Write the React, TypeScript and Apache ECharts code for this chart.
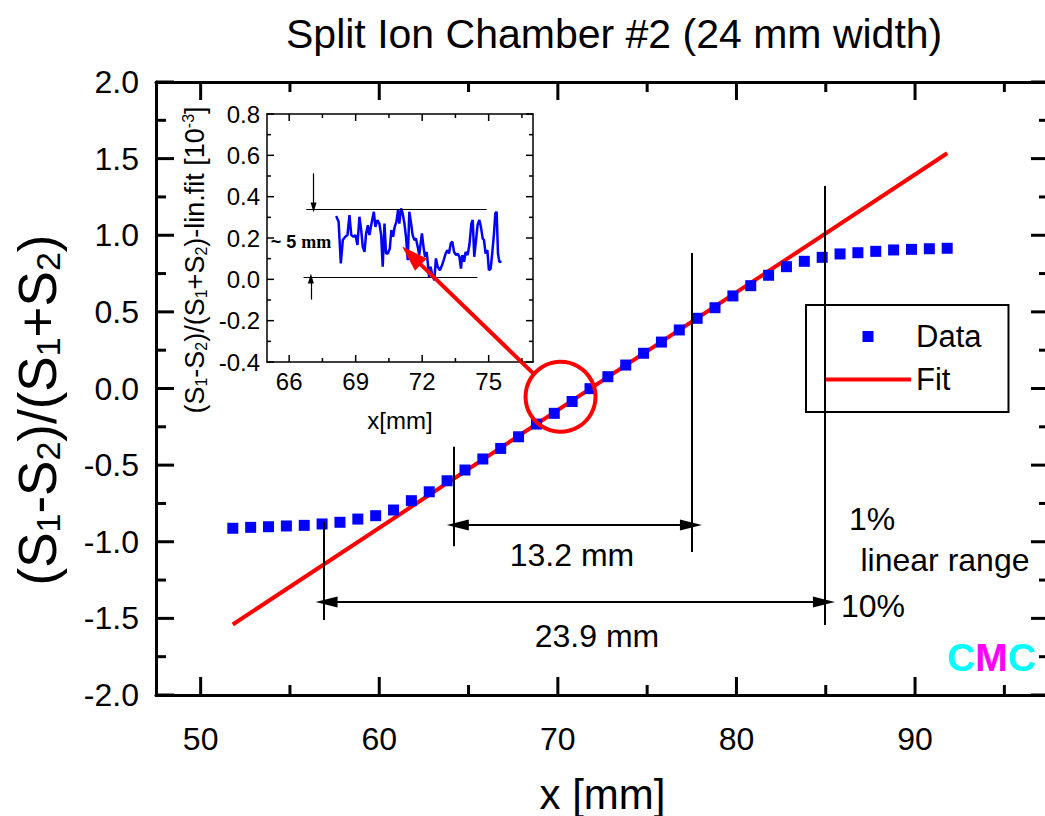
import React, { useEffect, useRef } from "react";
import * as echarts from "echarts";

const FONT = '"Liberation Sans", Arial, Helvetica, sans-serif';

// Main data (x in mm, normalized difference)
const dataX = [51.8, 52.8, 53.8, 54.8, 55.8, 56.8, 57.8, 58.8, 59.8, 60.8, 61.8, 62.8, 63.8, 64.8, 65.8, 66.8, 67.8, 68.8, 69.8, 70.8, 71.8, 72.8, 73.8, 74.8, 75.8, 76.8, 77.8, 78.8, 79.8, 80.8, 81.8, 82.8, 83.8, 84.8, 85.8, 86.8, 87.8, 88.8, 89.8, 90.8, 91.8];
const dataY = [-0.912, -0.906, -0.902, -0.897, -0.893, -0.884, -0.873, -0.852, -0.83, -0.793, -0.732, -0.674, -0.602, -0.532, -0.46, -0.391, -0.315, -0.232, -0.162, -0.085, -0.001, 0.077, 0.153, 0.23, 0.303, 0.382, 0.458, 0.527, 0.604, 0.671, 0.739, 0.795, 0.83, 0.856, 0.878, 0.886, 0.895, 0.904, 0.908, 0.912, 0.915];

// Linear fit end points
const fitX = [51.8, 91.8];
const fitY = [-1.54, 1.535];

// Inset: residual (S1-S2)/(S1+S2) - lin.fit [1e-3]
const insetX = [68.12, 68.23, 68.33, 68.42, 68.53, 68.63, 68.72, 68.8, 68.9, 68.99, 69.08, 69.17, 69.25, 69.32, 69.4, 69.47, 69.55, 69.62, 69.73, 69.82, 69.89, 69.98, 70.07, 70.15, 70.22, 70.3, 70.37, 70.45, 70.54, 70.61, 70.69, 70.76, 70.84, 70.91, 70.97, 71.05, 71.12, 71.2, 71.27, 71.35, 71.42, 71.5, 71.57, 71.65, 71.72, 71.8, 71.87, 71.93, 71.99, 72.07, 72.13, 72.2, 72.25, 72.31, 72.38, 72.46, 72.55, 72.62, 72.7, 72.8, 72.9, 72.97, 73.06, 73.14, 73.21, 73.29, 73.36, 73.44, 73.53, 73.6, 73.68, 73.75, 73.81, 73.89, 73.96, 74.05, 74.13, 74.22, 74.28, 74.35, 74.43, 74.5, 74.58, 74.65, 74.73, 74.79, 74.86, 74.94, 75.01, 75.09, 75.16, 75.24, 75.3, 75.36, 75.42, 75.48, 75.58];
const insetY = [0.306, 0.279, 0.077, 0.19, 0.206, 0.214, 0.311, 0.214, 0.206, 0.214, 0.166, 0.303, 0.238, 0.157, 0.133, 0.222, 0.262, 0.214, 0.279, 0.327, 0.254, 0.287, 0.27, 0.214, 0.061, 0.27, 0.125, 0.125, 0.149, 0.238, 0.206, 0.254, 0.279, 0.335, 0.27, 0.343, 0.319, 0.27, 0.206, 0.093, 0.327, 0.27, 0.214, 0.19, 0.198, 0.157, 0.117, 0.174, 0.222, 0.149, 0.109, 0.133, 0.085, 0.012, 0.061, 0.02, -0.004, 0.101, 0.061, 0.044, 0.069, 0.093, 0.125, 0.141, 0.125, 0.174, 0.182, 0.133, 0.117, 0.125, 0.109, 0.052, 0.117, 0.085, 0.133, 0.117, 0.166, 0.27, 0.287, 0.109, 0.19, 0.262, 0.287, 0.254, 0.198, 0.19, 0.125, 0.141, 0.044, 0.052, 0.125, 0.222, 0.319, 0.327, 0.125, 0.085, 0.085];

// Axis ranges and tick positions / labels
const xRange = [47.5, 97.5];
const yRange = [-2, 2];
const insetXRange = [65, 77];
const insetYRange = [-0.4, 0.8];
const xMajorTicks = [50, 60, 70, 80, 90];
const xMinorTicks = [55, 65, 75, 85, 95];
const yMajorTicks = [-2, -1.5, -1, -0.5, 0, 0.5, 1, 1.5, 2];
const yMinorTicks = [-1.75, -1.25, -0.75, -0.25, 0.25, 0.75, 1.25, 1.75];
const insetXMajorTicks = [66, 69, 72, 75];
const insetXMinorTicks = [67.5, 70.5, 73.5, 76.5];
const insetYMajorTicks = [-0.4, -0.2, 0, 0.2, 0.4, 0.6, 0.8];
const insetYMinorTicks = [-0.3, -0.1, 0.1, 0.3, 0.5, 0.7];

// Annotations (data coordinates)
const guideLines = [
  [[56.88, -0.87], [56.88, -1.51]],
  [[64.18, -0.38], [64.18, -1.03]],
  [[77.51, 0.884], [77.51, -1.067]],
  [[84.96, 1.321], [84.96, -1.543]],
];
const spanArrows = [
  [[64.4, -0.891], [77.45, -0.891]],
  [[57.05, -1.393], [84.9, -1.393]],
];
const circleCenter = [70.15, -0.054];
const pointerArrow = [[68.62, 0.099], [61.81, 0.867]];
const insetBandLines = [
  [[66.77, 0.34], [74.91, 0.34]],
  [[66.65, 0.01], [74.49, 0.01]],
];
const insetArrows = [
  [[67.1, 0.513], [67.1, 0.348]],
  [[66.98, -0.098], [66.98, 0.004]],
];

const BLACK = "#000";

function xAxisDef(grid: number, position: string, range: number[], lw: number, labels: any, extra: any = {}) {
  return {
    gridIndex: grid,
    type: "value",
    position,
    min: range[0],
    max: range[1],
    axisLine: { show: true, onZero: false, lineStyle: { color: BLACK, width: lw } },
    axisTick: { show: false },
    minorTick: { show: false },
    axisLabel: labels,
    splitLine: { show: false },
    ...extra,
  };
}

function yAxisDef(grid: number, position: string, range: number[], interval: number, lw: number, labels: any) {
  return {
    gridIndex: grid,
    type: "value",
    position,
    min: range[0],
    max: range[1],
    interval,
    axisLine: { show: true, onZero: false, lineStyle: { color: BLACK, width: lw } },
    axisTick: { show: false },
    minorTick: { show: false },
    axisLabel: labels,
    splitLine: { show: false },
    minorSplitLine: { show: false },
  };
}

function lineMarks(segs: number[][][], arrow: boolean) {
  return segs.map((s) => [
    { coord: s[0], symbol: arrow ? "triangle" : "none" },
    { coord: s[1], symbol: arrow ? "triangle" : "none" },
  ]);
}

// Inward tick marks on all four sides of a grid, placed through the chart's own axis scales
function buildTicks(
  chart: any,
  axes: { xAxisIndex: number; yAxisIndex: number },
  xr: number[],
  yr: number[],
  xMaj: number[],
  xMin: number[],
  yMaj: number[],
  yMin: number[],
  big: number,
  small: number,
  w: number
) {
  const els: any[] = [];
  const rect = (x: number, y: number, width: number, height: number) =>
    els.push({ type: "rect", z: 100, silent: true, shape: { x, y, width, height }, style: { fill: BLACK } });
  const xt = (v: number, len: number) => {
    const pb = chart.convertToPixel(axes, [v, yr[0]]);
    const pt = chart.convertToPixel(axes, [v, yr[1]]);
    rect(pb[0] - w / 2, pb[1] - len, w, len);
    rect(pt[0] - w / 2, pt[1], w, len);
  };
  const yt = (v: number, len: number) => {
    const pl = chart.convertToPixel(axes, [xr[0], v]);
    const pr = chart.convertToPixel(axes, [xr[1], v]);
    rect(pl[0], pl[1] - w / 2, len, w);
    rect(pr[0] - len, pr[1] - w / 2, len, w);
  };
  xMaj.forEach((v) => xt(v, big));
  xMin.forEach((v) => xt(v, small));
  yMaj.forEach((v) => yt(v, big));
  yMin.forEach((v) => yt(v, small));
  return els;
}

export default function App() {
  const ref = useRef<HTMLDivElement>(null);

  useEffect(() => {
    if (!ref.current) return;
    const chart = echarts.init(ref.current, undefined, { renderer: "svg" });

    const fmt1 = (v: number) => v.toFixed(1);
    const textGraphics: any[] = [
      {
        type: "text",
        x: 37,
        y: 410,
        rotation: Math.PI / 2,
        silent: true,
        style: {
          text: "(S{s|1}-S{s|2})/(S{s|1}+S{s|2})",
          fontSize: 53,
          fontFamily: FONT,
          lineHeight: 55,
          fill: BLACK,
          align: "center",
          verticalAlign: "middle",
          rich: { s: { fontSize: 34, fontFamily: FONT, fill: BLACK, verticalAlign: "bottom", lineHeight: 16 } },
        },
      },
      {
        type: "text",
        x: 195,
        y: 260,
        rotation: Math.PI / 2,
        silent: true,
        style: {
          text: "(S{s|1}-S{s|2})/(S{s|1}+S{s|2})-lin.fit [10{p|-3}]",
          fontSize: 27,
          fontFamily: FONT,
          lineHeight: 29,
          fill: BLACK,
          align: "center",
          verticalAlign: "middle",
          rich: {
            s: { fontSize: 16, fontFamily: FONT, fill: BLACK, verticalAlign: "bottom", lineHeight: 8 },
            p: { fontSize: 16, fontFamily: FONT, fill: BLACK, verticalAlign: "top", lineHeight: 10 },
          },
        },
      },
      {
        type: "text",
        x: 301,
        y: 242,
        silent: true,
        style: {
          text: "{a|~ 5 }{b|mm}",
          align: "center",
          verticalAlign: "middle",
          rich: {
            a: { fontSize: 18, fontWeight: "bold", fontFamily: FONT, fill: BLACK },
            b: { fontSize: 18, fontWeight: "bold", fontFamily: '"Liberation Serif", "Times New Roman", serif', fill: BLACK },
          },
        },
      },
      { type: "text", x: 572, y: 555, silent: true, style: { text: "13.2 mm", fontSize: 32, fontFamily: FONT, fill: BLACK, align: "center", verticalAlign: "middle" } },
      { type: "text", x: 597, y: 636, silent: true, style: { text: "23.9 mm", fontSize: 32, fontFamily: FONT, fill: BLACK, align: "center", verticalAlign: "middle" } },
      { type: "text", x: 872, y: 519, silent: true, style: { text: "1%", fontSize: 32, fontFamily: FONT, fill: BLACK, align: "center", verticalAlign: "middle" } },
      { type: "text", x: 945, y: 560, silent: true, style: { text: "linear range", fontSize: 32, fontFamily: FONT, fill: BLACK, align: "center", verticalAlign: "middle" } },
      { type: "text", x: 873, y: 606, silent: true, style: { text: "10%", fontSize: 32, fontFamily: FONT, fill: BLACK, align: "center", verticalAlign: "middle" } },
      {
        type: "text",
        x: 947,
        y: 657,
        silent: true,
        style: {
          text: "{c|C}{m|M}{c|C}",
          align: "left",
          verticalAlign: "middle",
          rich: {
            c: { fontSize: 39, fontWeight: "bold", fontFamily: FONT, fill: "#00ffff" },
            m: { fontSize: 39, fontWeight: "bold", fontFamily: FONT, fill: "#ff00ff" },
          },
        },
      },
    ];

    const option: any = {
      animation: false,
      backgroundColor: "#fff",
      title: {
        text: "Split Ion Chamber #2 (24 mm width)",
        left: 281,
        top: 8,
        textStyle: { fontSize: 41, fontWeight: "normal", color: BLACK, fontFamily: FONT },
      },
      legend: {
        data: [
          { name: "Data", icon: "path://M0,0L10,0L10,10L0,10Z" },
          { name: "Fit", icon: "path://M0,0L86,0L86,4L0,4Z" },
        ],
        orient: "vertical",
        left: 806,
        top: 305,
        padding: [16, 27, 17, 19],
        itemGap: 12,
        itemWidth: 86,
        itemHeight: 11,
        symbolKeepAspect: true,
        borderColor: BLACK,
        borderWidth: 2,
        backgroundColor: "#fff",
        textStyle: { fontSize: 31, color: BLACK, fontFamily: FONT },
        selectedMode: false,
      },
      grid: [
        { left: 156, top: 82, width: 893, height: 613, containLabel: false, outerBoundsMode: "none" },
        { left: 267, top: 114, width: 266, height: 248, containLabel: false, outerBoundsMode: "none" },
      ],
      xAxis: [
        xAxisDef(0, "bottom", xRange, 3, {
          show: true,
          customValues: xMajorTicks,
          fontSize: 32,
          color: BLACK,
          fontFamily: FONT,
          margin: 28,
          formatter: (v: number) => (Math.abs(v % 10) < 1e-9 ? String(v) : ""),
        }, {
          name: "x [mm]",
          nameLocation: "middle",
          nameGap: 78,
          nameMoveOverlap: false,
          nameTextStyle: { fontSize: 42, color: BLACK, fontFamily: FONT },
        }),
        xAxisDef(0, "top", xRange, 3, { show: false }),
        xAxisDef(1, "bottom", insetXRange, 1.5, {
          show: true,
          customValues: insetXMajorTicks,
          fontSize: 24,
          color: BLACK,
          fontFamily: FONT,
          margin: 7,
          formatter: (v: number) => (Math.abs(v % 3) < 1e-9 ? String(v) : ""),
        }, {
          name: "x[mm]",
          nameLocation: "middle",
          nameGap: 46,
          nameMoveOverlap: false,
          nameTextStyle: { fontSize: 24, color: BLACK, fontFamily: FONT },
        }),
        xAxisDef(1, "top", insetXRange, 1.5, { show: false }),
      ],
      yAxis: [
        yAxisDef(0, "left", yRange, 0.5, 3, { show: true, fontSize: 32, color: BLACK, fontFamily: FONT, margin: 17, formatter: fmt1 }),
        yAxisDef(0, "right", yRange, 0.5, 3, { show: false }),
        yAxisDef(1, "left", insetYRange, 0.2, 1.5, { show: true, fontSize: 24, color: BLACK, fontFamily: FONT, margin: 7, formatter: fmt1 }),
        yAxisDef(1, "right", insetYRange, 0.2, 1.5, { show: false }),
      ],
      series: [
        {
          name: "residual",
          type: "line",
          xAxisIndex: 2,
          yAxisIndex: 2,
          data: insetX.map((x, i) => [x, insetY[i]]),
          symbol: "none",
          lineStyle: { color: "#0000ff", width: 2.5 },
          itemStyle: { color: "#0000ff" },
          silent: true,
          markLine: {
            silent: true,
            animation: false,
            symbolSize: [6, 10],
            label: { show: false },
            emphasis: { disabled: true },
            lineStyle: { color: BLACK, width: 1.2, type: "solid" },
            data: [
              ...lineMarks(insetBandLines, false),
              ...insetArrows.map((s) => [
                { coord: s[0], symbol: "none" },
                { coord: s[1], symbol: "triangle" },
              ]),
            ],
          },
        },
        {
          name: "Data",
          type: "scatter",
          xAxisIndex: 0,
          yAxisIndex: 0,
          data: dataX.map((x, i) => [x, dataY[i]]),
          symbol: "rect",
          symbolSize: 11,
          itemStyle: { color: "#0000ff", opacity: 1 },
          silent: true,
          z: 3,
          markPoint: {
            silent: true,
            animation: false,
            symbol: "circle",
            symbolSize: 70,
            label: { show: false },
            itemStyle: { color: "rgba(0,0,0,0)", borderColor: "#ff0000", borderWidth: 4, opacity: 1 },
            data: [{ coord: circleCenter }],
          },
        },
        {
          name: "Fit",
          type: "line",
          xAxisIndex: 0,
          yAxisIndex: 0,
          data: fitX.map((x, i) => [x, fitY[i]]),
          symbol: "none",
          lineStyle: { color: "#ff0000", width: 4 },
          itemStyle: { color: "#ff0000" },
          silent: true,
          z: 2,
          markLine: {
            silent: true,
            animation: false,
            symbolSize: [11, 22],
            label: { show: false },
            emphasis: { disabled: true },
            lineStyle: { color: BLACK, width: 2, type: "solid" },
            data: [
              ...lineMarks(guideLines, false),
              ...lineMarks(spanArrows, true),
              [
                { coord: pointerArrow[0], symbol: "none", lineStyle: { color: "#ff0000", width: 4 } },
                { coord: pointerArrow[1], symbol: "triangle", symbolSize: [17, 26], lineStyle: { color: "#ff0000", width: 4 } },
              ],
            ],
          },
        },
      ],
      graphic: { elements: textGraphics },
    };

    chart.setOption(option);

    const tickEls = [
      ...buildTicks(chart, { xAxisIndex: 0, yAxisIndex: 0 }, xRange, yRange, xMajorTicks, xMinorTicks, yMajorTicks, yMinorTicks, 18, 10, 3),
      ...buildTicks(chart, { xAxisIndex: 2, yAxisIndex: 2 }, insetXRange, insetYRange, insetXMajorTicks, insetXMinorTicks, insetYMajorTicks, insetYMinorTicks, 7, 4, 1.5),
    ];
    chart.setOption({ graphic: { elements: [...textGraphics, ...tickEls] } });

    return () => {
      chart.dispose();
    };
  }, []);

  return (
    <div
      ref={ref}
      style={{ position: "fixed", left: 0, top: 0, width: 1045, height: 816, background: "#fff" }}
    />
  );
}
